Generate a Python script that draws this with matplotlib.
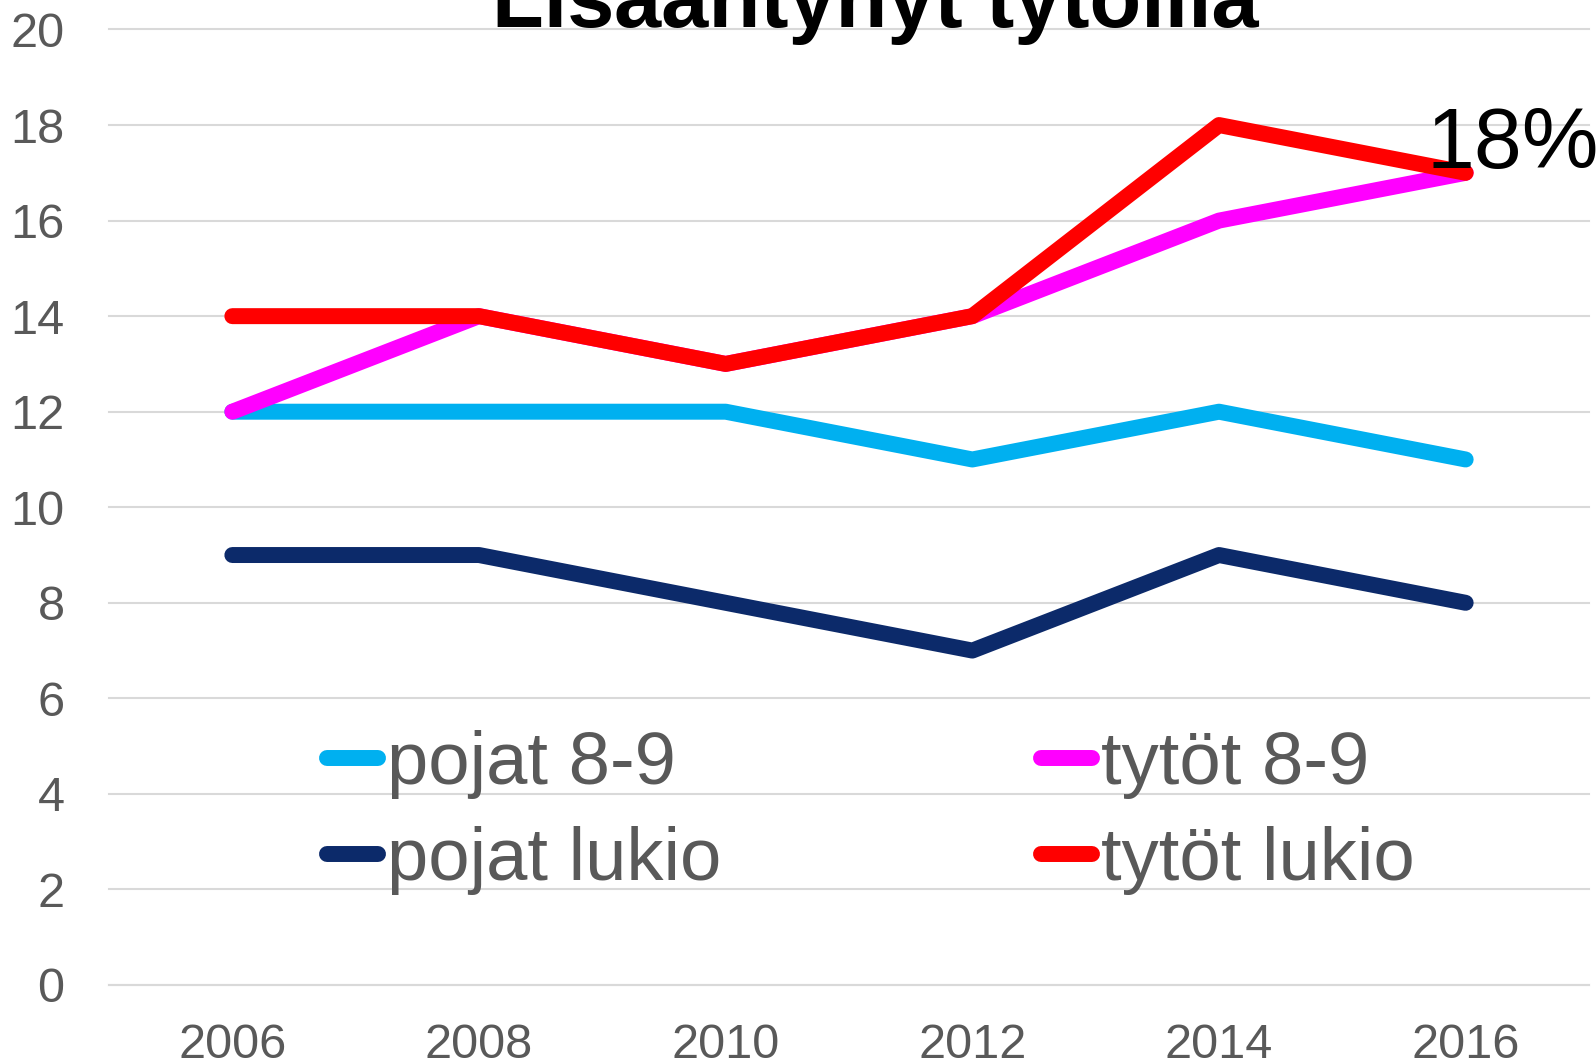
import matplotlib
matplotlib.use("Agg")
import matplotlib.pyplot as plt

plt.rcParams['font.family'] = ['Liberation Sans', 'DejaVu Sans']

years = ['2006', '2008', '2010', '2012', '2014', '2016']
pojat_89 = [12, 12, 12, 11, 12, 11]
tytot_89 = [12, 14, 13, 14, 16, 17]
pojat_lukio = [9, 9, 8, 7, 9, 8]
tytot_lukio = [14, 14, 13, 14, 18, 17]
series_names = ['pojat 8-9', 'tytöt 8-9', 'pojat lukio', 'tytöt lukio']
title = 'Lisääntynyt tytöillä'
annotation = '18%'
yticks = [0, 2, 4, 6, 8, 10, 12, 14, 16, 18, 20]

colors = ['#00B0F0', '#FF00FF', '#0C2A6A', '#FF0000']
gray = '#595959'

fig = plt.figure(figsize=(15.96, 10.62), dpi=100)
ax = fig.add_axes([109/1596, 1-985/1062, (1589-109)/1596, (985-29.5)/1062])

x = list(range(len(years)))
lines = []
for vals, c, name in zip([pojat_89, tytot_89, pojat_lukio, tytot_lukio], colors, series_names):
    ln, = ax.plot(x, vals, color=c, lw=11.5, solid_capstyle='round', solid_joinstyle='round',
                  label=name, clip_on=False)
    lines.append(ln)

ax.set_xlim(-0.5, 5.5)
ax.set_ylim(0, 20)
ax.set_yticks(yticks)
ax.set_xticks(x)
ax.set_xticklabels(years)
ax.grid(axis='y', color='#D9D9D9', lw=1.5, clip_on=False)
for gl in ax.get_ygridlines():
    gl.set_clip_on(False)
ax.set_axisbelow(True)
for s in ['left', 'right', 'top']:
    ax.spines[s].set_visible(False)
ax.spines['bottom'].set_color('#D9D9D9')
ax.spines['bottom'].set_linewidth(1.5)
ax.tick_params(axis='both', length=0, labelsize=35, colors=gray)
ax.tick_params(axis='y', pad=32)
ax.tick_params(axis='x', pad=27)

ax.text(4.84, 17.1, annotation, fontsize=62, color='black', ha='left', va='baseline', clip_on=False)

fig.text(875/1596, 1-27/1062, title, fontsize=61, fontweight='bold', color='black',
         ha='center', va='baseline')

handles = [lines[0], lines[2], lines[1], lines[3]]
labels = [series_names[0], series_names[2], series_names[1], series_names[3]]
leg = fig.legend(handles, labels, loc='upper left', bbox_to_anchor=(327/1596, 1-730/1062),
                 ncol=2, frameon=False, fontsize=53.5, handlelength=0.69, handletextpad=0.12,
                 columnspacing=4.3, labelspacing=0.37, borderpad=0, borderaxespad=0)
for t in leg.get_texts():
    t.set_color(gray)

fig.savefig('out.png', dpi=100)
